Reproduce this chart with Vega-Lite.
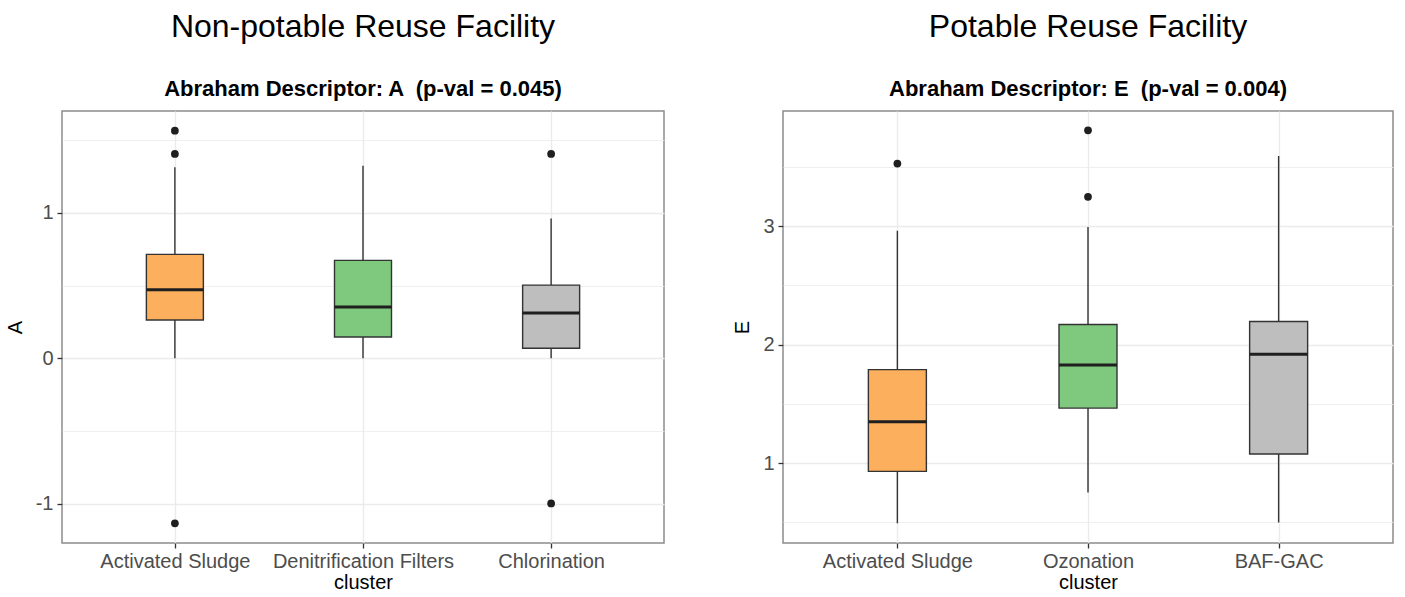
{
  "$schema": "https://vega.github.io/schema/vega-lite/v6.json",
  "background": "white",
  "padding": {"left": 4, "top": 10, "right": 5, "bottom": 5},
  "spacing": 67,
  "datasets": {
    "np": [
      {"cluster": "Activated Sludge", "lo": 0.0, "q1": 0.263, "median": 0.471, "q3": 0.714, "hi": 1.313},
      {"cluster": "Denitrification Filters", "lo": 0.0, "q1": 0.146, "median": 0.352, "q3": 0.673, "hi": 1.323},
      {"cluster": "Chlorination", "lo": 0.0, "q1": 0.069, "median": 0.311, "q3": 0.503, "hi": 0.961}
    ],
    "np_out": [
      {"cluster": "Activated Sludge", "value": 1.565},
      {"cluster": "Activated Sludge", "value": 1.405},
      {"cluster": "Activated Sludge", "value": -1.135},
      {"cluster": "Chlorination", "value": 1.405},
      {"cluster": "Chlorination", "value": -0.998}
    ],
    "p": [
      {"cluster": "Activated Sludge", "lo": 0.491, "q1": 0.93, "median": 1.349, "q3": 1.789, "hi": 2.961},
      {"cluster": "Ozonation", "lo": 0.752, "q1": 1.464, "median": 1.828, "q3": 2.17, "hi": 2.994},
      {"cluster": "BAF-GAC", "lo": 0.499, "q1": 1.076, "median": 1.919, "q3": 2.195, "hi": 3.594}
    ],
    "p_out": [
      {"cluster": "Activated Sludge", "value": 3.529},
      {"cluster": "Ozonation", "value": 3.81},
      {"cluster": "Ozonation", "value": 3.248}
    ]
  },
  "hconcat": [
    {
      "width": 602,
      "height": 432,
      "title": {
        "text": "Non-potable Reuse Facility",
        "subtitle": "Abraham Descriptor: A \u00a0(p-val = 0.045)"
      },
      "data": {"name": "np"},
      "encoding": {
        "x": {
          "field": "cluster", "type": "nominal", "title": "cluster",
          "sort": ["Activated Sludge", "Denitrification Filters", "Chlorination"],
          "scale": {"type": "point", "padding": 0.6},
          "axis": {"grid": true}
        }
      },
      "layer": [
        {
          "mark": {"type": "rule", "color": "#333333", "strokeWidth": 1.4},
          "encoding": {
            "y": {
              "field": "lo", "type": "quantitative", "title": "A",
              "scale": {"domain": [-1.27, 1.7], "nice": false, "zero": false},
              "axis": {
                "values": [-1, -0.5, 0, 0.5, 1, 1.5],
                "labelExpr": "datum.value % 1 === 0 ? '' + datum.value : ''",
                "tickColor": {"condition": {"test": "datum.value % 1 !== 0", "value": "transparent"}, "value": "#333333"},
                "gridWidth": {"condition": {"test": "datum.value % 1 !== 0", "value": 0.8}, "value": 1.4}
              }
            },
            "y2": {"field": "hi"}
          }
        },
        {
          "mark": {"type": "bar", "width": 57, "stroke": "#333333", "strokeWidth": 1.4, "opacity": 1},
          "encoding": {
            "y": {"field": "q1", "type": "quantitative", "title": "A"},
            "y2": {"field": "q3"},
            "fill": {
              "field": "cluster", "type": "nominal", "legend": null,
              "scale": {
                "domain": ["Activated Sludge", "Denitrification Filters", "Chlorination", "Ozonation", "BAF-GAC"],
                "range": ["#FCAF5C", "#7FC97F", "#BEBEBE", "#7FC97F", "#BEBEBE"]
              }
            }
          }
        },
        {
          "mark": {"type": "tick", "size": 57, "thickness": 3, "color": "#1f1f1f", "opacity": 1},
          "encoding": {"y": {"field": "median", "type": "quantitative", "title": "A"}}
        },
        {
          "data": {"name": "np_out"},
          "mark": {"type": "point", "filled": true, "size": 60, "color": "#1f1f1f", "opacity": 1},
          "encoding": {"y": {"field": "value", "type": "quantitative", "title": "A"}}
        }
      ]
    },
    {
      "width": 610,
      "height": 432,
      "title": {
        "text": "Potable Reuse Facility",
        "subtitle": "Abraham Descriptor: E \u00a0(p-val = 0.004)"
      },
      "data": {"name": "p"},
      "encoding": {
        "x": {
          "field": "cluster", "type": "nominal", "title": "cluster",
          "sort": ["Activated Sludge", "Ozonation", "BAF-GAC"],
          "scale": {"type": "point", "padding": 0.6},
          "axis": {"grid": true}
        }
      },
      "layer": [
        {
          "mark": {"type": "rule", "color": "#333333", "strokeWidth": 1.4},
          "encoding": {
            "y": {
              "field": "lo", "type": "quantitative", "title": "E",
              "scale": {"domain": [0.325, 3.973], "nice": false, "zero": false},
              "axis": {
                "values": [0.5, 1, 1.5, 2, 2.5, 3, 3.5],
                "labelExpr": "datum.value % 1 === 0 ? '' + datum.value : ''",
                "tickColor": {"condition": {"test": "datum.value % 1 !== 0", "value": "transparent"}, "value": "#333333"},
                "gridWidth": {"condition": {"test": "datum.value % 1 !== 0", "value": 0.8}, "value": 1.4}
              }
            },
            "y2": {"field": "hi"}
          }
        },
        {
          "mark": {"type": "bar", "width": 58, "stroke": "#333333", "strokeWidth": 1.4, "opacity": 1},
          "encoding": {
            "y": {"field": "q1", "type": "quantitative", "title": "E"},
            "y2": {"field": "q3"},
            "fill": {
              "field": "cluster", "type": "nominal", "legend": null,
              "scale": {
                "domain": ["Activated Sludge", "Denitrification Filters", "Chlorination", "Ozonation", "BAF-GAC"],
                "range": ["#FCAF5C", "#7FC97F", "#BEBEBE", "#7FC97F", "#BEBEBE"]
              }
            }
          }
        },
        {
          "mark": {"type": "tick", "size": 58, "thickness": 3, "color": "#1f1f1f", "opacity": 1},
          "encoding": {"y": {"field": "median", "type": "quantitative", "title": "E"}}
        },
        {
          "data": {"name": "p_out"},
          "mark": {"type": "point", "filled": true, "size": 60, "color": "#1f1f1f", "opacity": 1},
          "encoding": {"y": {"field": "value", "type": "quantitative", "title": "E"}}
        }
      ]
    }
  ],
  "resolve": {"scale": {"x": "independent", "y": "independent"}},
  "config": {
    "font": "Liberation Sans",
    "view": {"stroke": "#8c8c8c", "strokeWidth": 1.5},
    "title": {
      "anchor": "middle",
      "frame": "group",
      "fontSize": 32,
      "fontWeight": "normal",
      "color": "#000000",
      "subtitleFontSize": 22,
      "subtitleFontWeight": "bold",
      "subtitleColor": "#000000",
      "subtitlePadding": 35,
      "offset": 10
    },
    "axis": {
      "domain": false,
      "gridColor": "#EBEBEB",
      "labelColor": "#4D4D4D",
      "labelFontSize": 20,
      "labelLimit": 0,
      "labelOverlap": false,
      "tickColor": "#333333",
      "tickSize": 5,
      "tickWidth": 1.3,
      "titleFontSize": 20,
      "titleFontWeight": "normal",
      "titleColor": "#000000"
    },
    "axisX": {"labelAngle": 0, "labelPadding": 3, "titlePadding": 1, "gridWidth": 1.4},
    "axisY": {"labelPadding": 4, "titlePadding": 10}
  }
}
